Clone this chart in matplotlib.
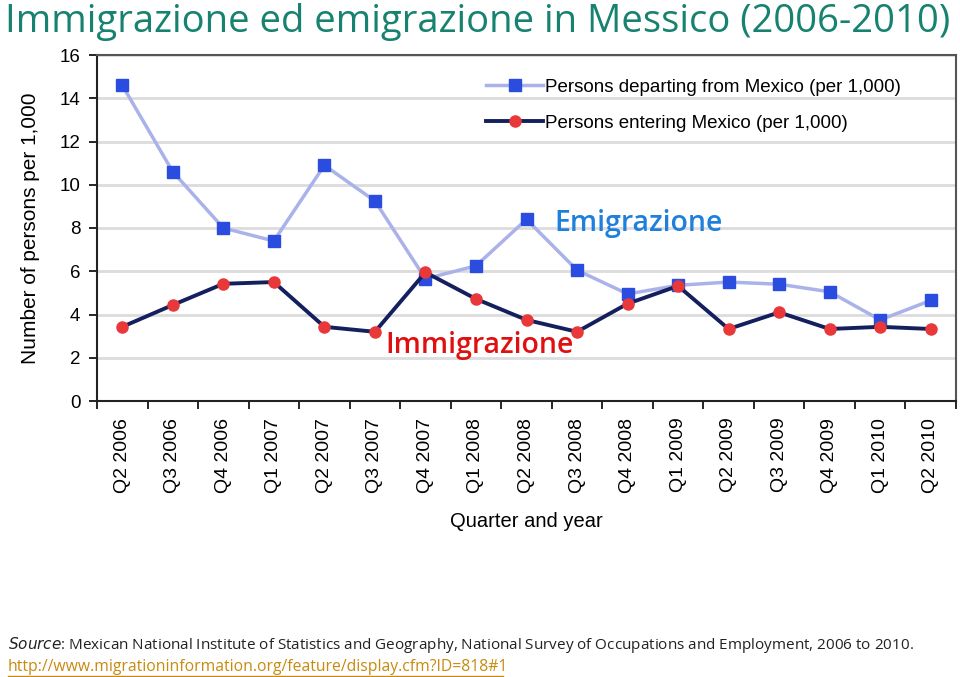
import numpy as np
import matplotlib.pyplot as plt

quarters = ['Q2 2006', 'Q3 2006', 'Q4 2006', 'Q1 2007', 'Q2 2007', 'Q3 2007',
            'Q4 2007', 'Q1 2008', 'Q2 2008', 'Q3 2008', 'Q4 2008', 'Q1 2009',
            'Q2 2009', 'Q3 2009', 'Q4 2009', 'Q1 2010', 'Q2 2010']
departing = [14.6, 10.6, 8.0, 7.4, 10.9, 9.25, 5.65, 6.25, 8.4, 6.05,
             4.95, 5.35, 5.5, 5.4, 5.05, 3.75, 4.65]
entering = [3.43, 4.44, 5.42, 5.5, 3.43, 3.2, 5.95, 4.72, 3.75, 3.2,
            4.5, 5.32, 3.33, 4.1, 3.33, 3.43, 3.33]

fig = plt.figure(figsize=(9.6, 6.77), dpi=100)
ax = fig.add_axes([97/960, 1 - 401/677, 859/960, 346/677])

x = np.arange(len(quarters))
ax.plot(x, departing, color='#aab2ea', lw=2.5, marker='s', ms=8,
        mfc='#2a4de0', mec='#2a4de0', label='Persons departing from Mexico (per 1,000)')
ax.plot(x, entering, color='#14205e', lw=2.8, marker='o', ms=8,
        mfc='#e8383a', mec='#e8383a', label='Persons entering Mexico (per 1,000)')

ax.set_xlim(-0.5, len(quarters) - 0.5)
ax.set_ylim(0, 16)
ax.set_yticks(np.arange(0, 17, 2))
ax.set_xticks(x)
ax.set_xticklabels(quarters, rotation=90, fontsize=14, family='Liberation Sans')
ax.set_xticks(np.arange(-0.5, len(quarters), 1), minor=True)
ax.tick_params(axis='x', which='major', length=0, pad=12)
ax.tick_params(axis='x', which='minor', length=6, width=1.2, direction='out')
ax.tick_params(axis='y', length=6, width=1.2, direction='out', labelsize=13.5, pad=6)
for lab in ax.get_yticklabels():
    lab.set_family('Liberation Sans')
ax.grid(axis='y', color='#dcdcdc', lw=2)
ax.set_axisbelow(True)
for s in ax.spines.values():
    s.set_color('#555555')
    s.set_linewidth(1.5)
ax.spines['left'].set_color('#222222')
ax.spines['bottom'].set_color('#222222')

ax.set_xlabel('Quarter and year', fontsize=14.5, family='Liberation Sans', labelpad=14)
ax.set_ylabel('Number of persons per 1,000', fontsize=15, family='Liberation Sans', labelpad=14)

ax.legend(loc='upper right', bbox_to_anchor=(0.955, 0.98), frameon=False,
          prop={'family': 'Liberation Sans', 'size': 13.5},
          handlelength=3.0, handletextpad=0.1, labelspacing=1.0)

ax.text(8.55, 8.2, 'Emigrazione', color='#1e80dc', fontsize=20.5, family='Open Sans',
        weight='semibold', va='center', ha='left')
ax.text(5.2, 2.55, 'Immigrazione', color='#e01010', fontsize=20.5, family='Open Sans',
        weight='semibold', va='center', ha='left')

fig.text(0.005, 0.968, 'Immigrazione ed emigrazione in Messico (2006-2010)',
         color='#17826f', fontsize=27.5, family='Open Sans', va='center', ha='left')

fig.text(0.008, 1 - 645/677, r'$\mathit{Source}$: Mexican National Institute of Statistics and Geography, National Survey of Occupations and Employment, 2006 to 2010.',
         fontsize=11, family='Open Sans', color='#222222', va='center')
fig.text(0.008, 1 - 667/677, 'http://www.migrationinformation.org/feature/display.cfm?ID=818#1',
         fontsize=11.3, family='Open Sans', color='#c88a10', va='center')
fig.add_artist(plt.Line2D([8/960, 503/960], [1 - 676/677, 1 - 676/677],
                          color='#c88a10', lw=1, transform=fig.transFigure))

fig.savefig('out.png', dpi=100)
